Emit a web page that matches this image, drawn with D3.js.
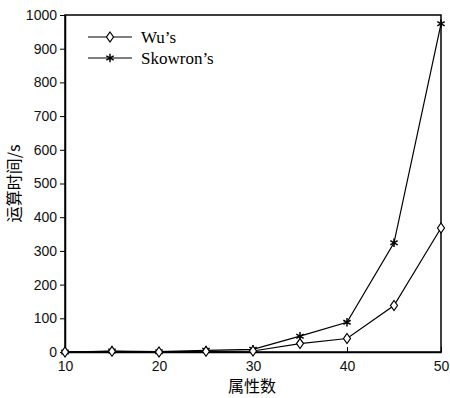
<!DOCTYPE html>
<html>
<head>
<meta charset="utf-8">
<script src="https://cdn.jsdelivr.net/npm/d3@7"></script>
<style>
  body { margin: 0; background: #fff; }
</style>
</head>
<body>
<div id="chart"></div>
<script>
// data
var attrs = [10, 15, 20, 25, 30, 35, 40, 45, 50];
var wuTimes = [0, 2, 0, 2, 3, 25, 40, 138, 368];
var skowronTimes = [0, 3, 1, 5, 8, 47, 88, 324, 974];
var seriesNames = ["Wu\u2019s", "Skowron\u2019s"];
var xTicks = [10, 20, 30, 40, 50];
var yTicks = [0, 100, 200, 300, 400, 500, 600, 700, 800, 900, 1000];

var margin = { top: 15, right: 9, bottom: 46, left: 65 },
  width = 450 - margin.left - margin.right,
  height = 398 - margin.top - margin.bottom;

var svg = d3.select("#chart")
  .append("svg")
  .attr("width", 450)
  .attr("height", 398)
  .append("g")
  .attr("transform", "translate(" + margin.left + "," + margin.top + ")");

var x = d3.scaleLinear().domain([10, 50]).range([0, width]);
var y = d3.scaleLinear().domain([0, 1000]).range([height, 0]);

// box
svg.append("rect")
  .attr("width", width)
  .attr("height", height)
  .attr("fill", "none")
  .attr("stroke", "#000")
  .attr("stroke-width", 1.5);

// x axis, ticks pointing inside
var xAxis = svg.append("g")
  .attr("transform", "translate(0," + height + ")")
  .call(d3.axisBottom(x).tickValues(xTicks).tickFormat(d3.format("d"))
    .tickSizeInner(-5).tickSizeOuter(0).tickPadding(9));
xAxis.select(".domain").attr("stroke-width", 1.5);

// y axis, ticks outside
var yAxis = svg.append("g")
  .call(d3.axisLeft(y).tickValues(yTicks).tickFormat(d3.format("d"))
    .tickSizeInner(5).tickSizeOuter(0).tickPadding(3));
yAxis.select(".domain").attr("stroke-width", 1.5);

svg.selectAll(".tick text")
  .style("font-family", "Liberation Sans, Arial, sans-serif")
  .style("font-size", "14px")
  .attr("fill", "#111");

// axis titles
svg.append("text")
  .attr("x", 187)
  .attr("y", height + 40)
  .attr("text-anchor", "middle")
  .style("font-family", "Noto Sans CJK SC")
  .style("font-size", "16px")
  .text("属性数");

svg.append("text")
  .attr("transform", "translate(" + (-45) + "," + (height / 2) + ") rotate(-90)")
  .attr("text-anchor", "middle")
  .style("font-family", "Noto Sans CJK SC")
  .style("font-size", "16px")
  .text("运算时间/s");

var line = d3.line()
  .x(function (d, i) { return x(attrs[i]); })
  .y(function (d) { return y(d); });

// Skowron's line
svg.append("path")
  .datum(skowronTimes)
  .attr("d", line)
  .attr("fill", "none")
  .attr("stroke", "#000")
  .attr("stroke-width", 1.2);

// Wu's line
svg.append("path")
  .datum(wuTimes)
  .attr("d", line)
  .attr("fill", "none")
  .attr("stroke", "#000")
  .attr("stroke-width", 1.2);

var star = d3.symbol().type(d3.symbolAsterisk).size(50);
var diamond = "M0,-5L3.5,0L0,5L-3.5,0Z";

svg.selectAll(".star")
  .data(skowronTimes)
  .enter().append("path")
  .attr("class", "star")
  .attr("d", star)
  .attr("transform", function (d, i) { return "translate(" + x(attrs[i]) + "," + y(d) + ")"; })
  .attr("fill", "none")
  .attr("stroke", "#000")
  .attr("stroke-width", 1.5);

svg.selectAll(".dia")
  .data(wuTimes)
  .enter().append("path")
  .attr("class", "dia")
  .attr("d", diamond)
  .attr("transform", function (d, i) { return "translate(" + x(attrs[i]) + "," + y(d) + ")"; })
  .attr("fill", "#fff")
  .attr("stroke", "#000")
  .attr("stroke-width", 1.2);

// legend
var legend = svg.append("g").attr("transform", "translate(23,22)");
seriesNames.forEach(function (name, i) {
  var g = legend.append("g").attr("transform", "translate(0," + (i * 21) + ")");
  g.append("line")
    .attr("x1", 0).attr("x2", 44)
    .attr("stroke", "#000").attr("stroke-width", 1.2);
  if (i === 0) {
    g.append("path").attr("d", diamond).attr("transform", "translate(22,0)")
      .attr("fill", "#fff").attr("stroke", "#000").attr("stroke-width", 1.2);
  } else {
    g.append("path").attr("d", star).attr("transform", "translate(22,0)")
      .attr("fill", "none").attr("stroke", "#000").attr("stroke-width", 1.5);
  }
  g.append("text")
    .attr("x", 53)
    .attr("y", 6)
    .style("font-family", "Liberation Serif, Times New Roman, serif")
    .style("font-size", "17px")
    .text(name);
});
</script>
</body>
</html>
